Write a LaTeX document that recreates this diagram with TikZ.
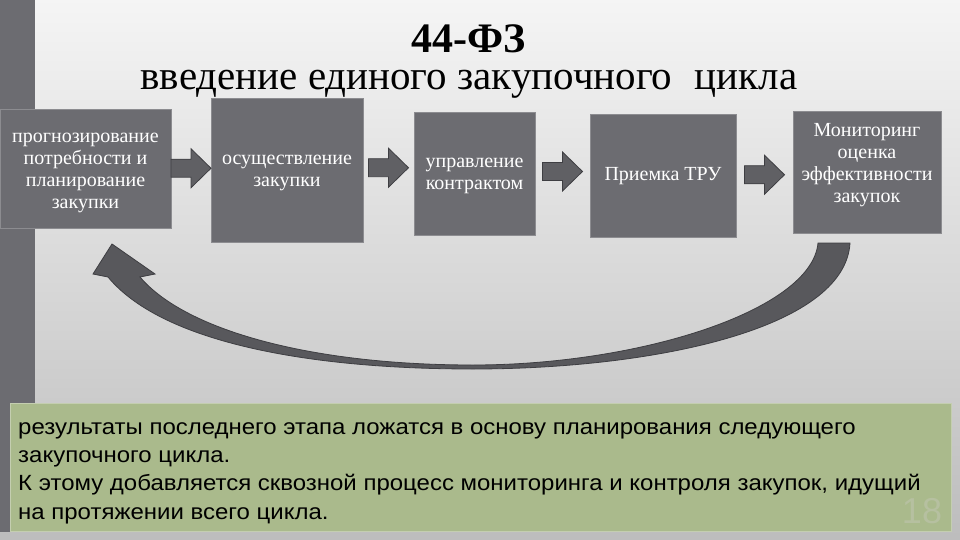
\documentclass[tikz,border=0pt]{standalone}
\usepackage{fontspec}
\setmainfont{Liberation Serif}
\newfontfamily\notefont[FakeStretch=1.09]{Liberation Sans}
\newfontfamily\numfont{Liberation Sans}
\usepackage{tikz}
\usetikzlibrary{calc}
\definecolor{bargray}{RGB}{108,108,113}
\definecolor{boxgray}{RGB}{108,108,113}
\definecolor{boxrim}{RGB}{140,140,144}
\definecolor{arrgray}{RGB}{96,96,100}
\definecolor{arrline}{RGB}{62,62,66}
\definecolor{curvegray}{RGB}{88,88,92}
\definecolor{notegreen}{RGB}{170,186,140}
\definecolor{noterim}{RGB}{196,206,176}
\definecolor{pagegray}{RGB}{182,192,160}
\tikzset{
  stagebox/.style={draw=boxrim, fill=boxgray, line width=0.8pt, inner sep=0pt},
  stagetext/.style={align=center, text=white, inner sep=0pt,
                    font=\fontsize{20}{22}\selectfont},
  pics/steparrow/.style={code={
    \draw[fill=arrgray, draw=arrline, line width=0.8pt]
      (-20,-9) -- (0,-9) -- (0,-19.5) -- (20,0) -- (0,19.5) -- (0,9) -- (-20,9) -- cycle;}},
  notebox/.style={draw=noterim, fill=notegreen, line width=1.2pt, inner sep=0pt},
  notetext/.style={align=left, inner sep=0pt,
                   font=\notefont\fontsize{22}{28.3}\selectfont},
}

\begin{document}
\begin{tikzpicture}[x=1pt, y=-1pt]
  \useasboundingbox (0,0) rectangle (960,540);
  \shade[top color=white!96!black, bottom color=black!26] (0,0) rectangle (960,540);
  \fill[bargray] (0,0) rectangle (35,532);
  % note box
  \node[notebox, minimum width=941pt, minimum height=128pt, anchor=north west] (note) at (10,403) {};
  \node[notetext, anchor=base west] (notetxt) at (18,519)
    {результаты последнего этапа ложатся в основу планирования следующего\\
     закупочного цикла.\\
     К этому добавляется сквозной процесс мониторинга и контроля закупок, идущий\\
     на протяжении всего цикла.};
  \node[text=pagegray, font=\numfont\fontsize{36}{36}\selectfont] (pnum) at (922,511) {18};
  % feedback arrow
  \draw[fill=curvegray, draw=arrline, line width=0.8pt]
    (850,243) .. controls (845,330) and (650,369) .. (473,369)
    .. controls (300,369) and (160,340) .. (108,277)
    -- (93,274) -- (112,244) -- (155,274) -- (140,277)
    .. controls (185,330) and (310,365) .. (473,365)
    .. controls (640,365) and (812,310) .. (818,243) -- cycle;
  % stages
  \node[stagebox, minimum width=171pt, minimum height=119pt] (plan) at (85.5,168.5) {};
  \node[stagebox, minimum width=152pt, minimum height=144pt] (buy) at (287,170) {};
  \node[stagebox, minimum width=121pt, minimum height=123pt] (contract) at (474.5,173.5) {};
  \node[stagebox, minimum width=146pt, minimum height=123pt] (accept) at (663,175.5) {};
  \node[stagebox, minimum width=148pt, minimum height=122pt] (monitor) at (867,172) {};
  \node[stagetext] (plantxt) at ($(plan)+(0,4)$)
    {прогнозирование\\потребности и\\планирование\\закупки};
  \node[stagetext] (buytxt) at ($(buy)+(0,3)$) {осуществление\\закупки};
  \node[stagetext] (contracttxt) at ($(contract)+(0,2)$) {управление\\контрактом};
  \node[stagetext] (accepttxt) at ($(accept)+(0,1)$) {Приемка ТРУ};
  \node[stagetext] (monitortxt) at ($(monitor)+(0,-7)$)
    {Мониторинг\\оценка\\эффективности\\закупок};
  \foreach \a/\b/\d in {plan/buy/-1, buy/contract/-4, contract/accept/-3, accept/monitor/1}
    \pic at ($(\a.east)!0.5!(\b.west)+(0,\d)$) {steparrow};
  % title
  \node[anchor=base, align=center, inner sep=0pt, font=\fontsize{41}{37}\selectfont] (title) at (469,90)
    {{\fontsize{42}{37}\selectfont\bfseries 44-ФЗ}\\
     введение единого закупочного\hspace{0.3em} цикла};
\end{tikzpicture}
\end{document}
